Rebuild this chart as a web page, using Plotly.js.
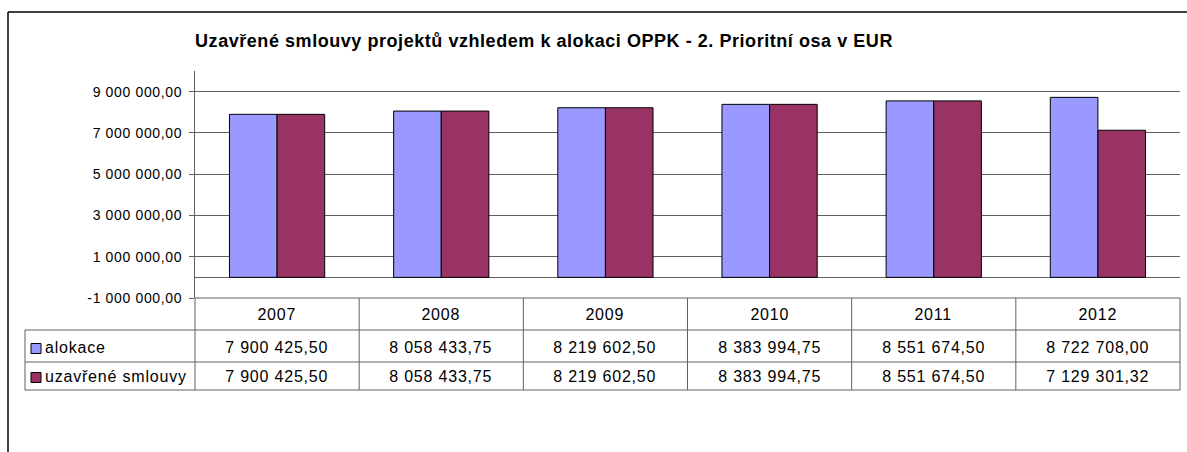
<!DOCTYPE html>
<html>
<head>
<meta charset="utf-8">
<script src="https://cdn.plot.ly/plotly-3.0.1.min.js"></script>
<style>
html,body{margin:0;padding:0;background:#fff;}
#chart{width:1187px;height:452px;}
#chart .ytick text{letter-spacing:0.65px;}
#chart .annotation-text{letter-spacing:0.8px;}
#chart .gtitle{letter-spacing:0.55px;}
</style>
</head>
<body>
<div id="chart"></div>
<script>
// ---- data ----
var years = ['2007', '2008', '2009', '2010', '2011', '2012'];
var seriesNames = ['alokace', 'uzavřené smlouvy'];
var alokace = [7900425.50, 8058433.75, 8219602.50, 8383994.75, 8551674.50, 8722708.00];
var smlouvy = [7900425.50, 8058433.75, 8219602.50, 8383994.75, 8551674.50, 7129301.32];
var yTickVals = [-1000000, 1000000, 3000000, 5000000, 7000000, 9000000];
var titleText = 'Uzavřené smlouvy projektů vzhledem k alokaci OPPK - 2. Prioritní osa v EUR';

var colors = ['#9999FF', '#993366'];

function fmt(v) {
  var neg = v < 0;
  var a = Math.abs(v);
  var parts = a.toFixed(2).split('.');
  var intPart = parts[0].replace(/\B(?=(\d{3})+(?!\d))/g, ' ');
  return (neg ? '-' : '') + intPart + ',' + parts[1];
}

// ---- geometry (pixels) ----
var W = 1187, H = 452;
var mL = 195, mR = 7, mT = 71, mB = 154;
var pw = W - mL - mR, ph = H - mT - mB;
function px(x) { return (x - mL) / pw; }
function py(y) { return (H - mB - y) / ph; }

var rowTop = 298, row1 = 330, row2 = 362, row3 = 390;
var tableLeft = 25;
var lineCol = '#606060';
var font = 'Liberation Sans, Arial, sans-serif';

var traces = [
  {type: 'bar', name: seriesNames[0], x: years, y: alokace,
   marker: {color: colors[0], line: {color: '#000', width: 1}}},
  {type: 'bar', name: seriesNames[1], x: years, y: smlouvy,
   marker: {color: colors[1], line: {color: '#000', width: 1}}}
];

var shapes = [];
var annotations = [];
function hline(y, x0, x1, col, w) {
  shapes.push({type: 'line', xref: 'paper', yref: 'paper', x0: px(x0), x1: px(x1), y0: py(y), y1: py(y),
    line: {color: col || lineCol, width: w || 1}});
}
function vlinePaper(x, y0, y1, col, w) {
  shapes.push({type: 'line', xref: 'paper', yref: 'paper', x0: px(x), x1: px(x), y0: py(y0), y1: py(y1),
    line: {color: col || lineCol, width: w || 1}});
}
// outer frame
hline(12, 8, 1187, '#000', 1.5);
vlinePaper(8, 12, 452, '#000', 1.5);
// table
hline(rowTop, mL, W - mR);
hline(row1, tableLeft, W - mR);
hline(row2, tableLeft, W - mR);
hline(row3, tableLeft, W - mR);
vlinePaper(tableLeft, row1, row3);
vlinePaper(mL, rowTop, row3);
vlinePaper(W - mR, rowTop, row3);
for (var i = 0; i < years.length - 1; i++) {
  shapes.push({type: 'line', xref: 'x', yref: 'paper', x0: i + 0.5, x1: i + 0.5, y0: py(rowTop), y1: py(row3),
    line: {color: lineCol, width: 1}});
}
// header & values
var rows = [alokace, smlouvy];
var rowCenters = [(row1 + row2) / 2 + 1.5, (row2 + row3) / 2 + 0.5];
years.forEach(function (yr, i) {
  annotations.push({xref: 'x', yref: 'paper', x: i, y: py((rowTop + row1) / 2), text: yr, showarrow: false,
    xanchor: 'center', yanchor: 'middle', font: {family: font, size: 16, color: '#000'}});
  rows.forEach(function (arr, r) {
    annotations.push({xref: 'x', yref: 'paper', x: i, y: py(rowCenters[r]), text: fmt(arr[i]), showarrow: false,
      xanchor: 'center', yanchor: 'middle', font: {family: font, size: 16, color: '#000'}});
  });
});
// legend keys
seriesNames.forEach(function (nm, r) {
  var cy = rowCenters[r] + 1;
  shapes.push({type: 'rect', xref: 'paper', yref: 'paper', x0: px(31), x1: px(41), y0: py(cy - 5), y1: py(cy + 5),
    fillcolor: colors[r], line: {color: '#000', width: 1}});
  annotations.push({xref: 'paper', yref: 'paper', x: px(43), y: py(rowCenters[r]), text: nm, showarrow: false,
    xanchor: 'left', align: 'left', yanchor: 'middle', xshift: 0, font: {family: font, size: 16, color: '#000'}});
});

var layout = {
  width: W, height: H,
  margin: {l: mL, r: mR, t: mT, b: mB, pad: 0},
  paper_bgcolor: '#fff', plot_bgcolor: '#fff',
  showlegend: false,
  barmode: 'group', bargap: 0.42, bargroupgap: 0,
  title: {text: titleText, font: {family: font, size: 18, color: '#000', weight: 'bold'},
    xref: 'paper', x: px(544), xanchor: 'center', yref: 'container', y: 1 - 41 / H, yanchor: 'middle'},
  xaxis: {type: 'category', range: [-0.5, 5.5], showticklabels: false, showgrid: false, zeroline: false,
    showline: false, ticks: '', fixedrange: true},
  yaxis: {range: [-1000000, 10000000], tickvals: yTickVals, ticktext: yTickVals.map(fmt),
    showgrid: true, gridcolor: lineCol, gridwidth: 1,
    zeroline: true, zerolinecolor: lineCol, zerolinewidth: 1.5,
    showline: true, linecolor: lineCol, linewidth: 1,
    ticks: 'outside', ticklen: 5, tickcolor: lineCol, ticklabelstandoff: 4,
    tickfont: {family: font, size: 14, color: '#000'}, fixedrange: true},
  shapes: shapes,
  annotations: annotations,
  font: {family: font}
};

Plotly.newPlot('chart', traces, layout, {displayModeBar: false, staticPlot: true});
</script>
</body>
</html>
